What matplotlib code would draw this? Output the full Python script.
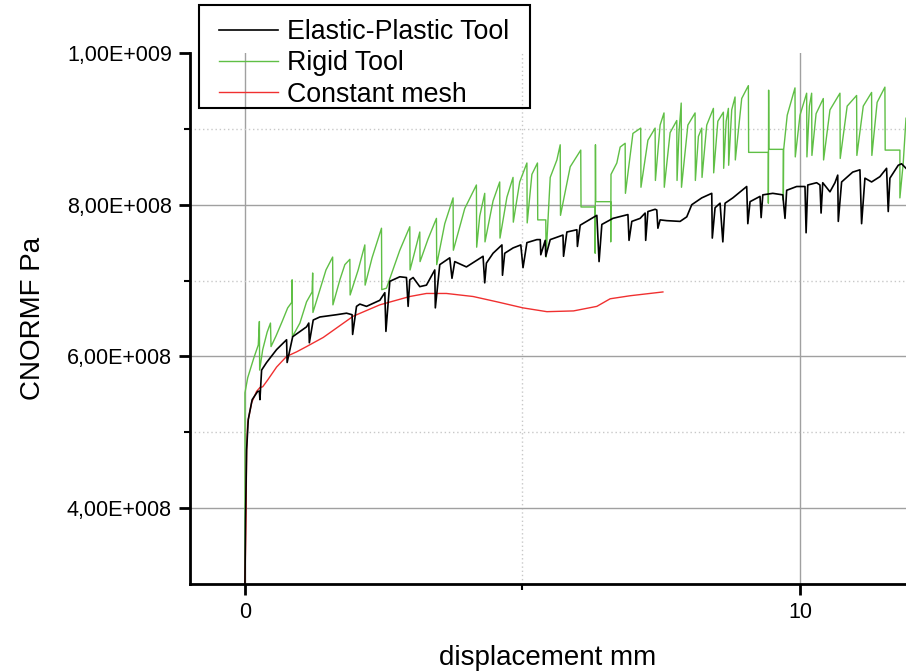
import matplotlib
matplotlib.use('Agg')
import matplotlib.pyplot as plt
import numpy as np
from matplotlib.patches import Rectangle
from matplotlib.ticker import FixedLocator, FuncFormatter

plt.rcParams['font.family'] = ['Liberation Sans', 'DejaVu Sans']

# displacement (mm), CNORMF (x1e8 Pa)
elastic_pts = [
    (0.00, 3.00), (0.01, 3.85), (0.03, 4.77), (0.06, 5.17), (0.13, 5.43), (0.23, 5.54),
    (0.26, 5.54), (0.27, 5.43), (0.30, 5.82), (0.39, 5.92), (0.57, 6.09), (0.75, 6.22),
    (0.76, 5.92), (0.81, 6.09), (0.86, 6.26), (1.11, 6.39), (1.15, 6.44), (1.16, 6.18),
    (1.23, 6.48), (1.35, 6.52), (1.65, 6.55), (1.83, 6.57), (1.93, 6.55), (1.94, 6.29),
    (2.01, 6.66), (2.07, 6.69), (2.19, 6.66), (2.43, 6.74), (2.52, 6.84), (2.54, 6.33),
    (2.61, 6.99), (2.79, 7.05), (2.91, 7.04), (2.94, 6.66), (2.97, 7.01), (3.03, 7.04),
    (3.15, 6.92), (3.27, 6.94), (3.42, 7.14), (3.43, 6.64), (3.51, 7.21), (3.69, 7.30),
    (3.73, 7.03), (3.78, 7.25), (3.99, 7.18), (4.29, 7.32), (4.32, 6.97), (4.35, 7.23),
    (4.47, 7.36), (4.63, 7.47), (4.64, 7.07), (4.68, 7.36), (4.83, 7.43), (4.97, 7.47),
    (5.01, 7.17), (5.08, 7.50), (5.26, 7.54), (5.32, 7.54), (5.33, 7.34), (5.41, 7.53),
    (5.42, 7.32), (5.50, 7.54), (5.73, 7.60), (5.74, 7.32), (5.80, 7.64), (5.98, 7.67),
    (5.99, 7.45), (6.04, 7.73), (6.34, 7.86), (6.38, 7.25), (6.43, 7.74), (6.63, 7.82),
    (6.90, 7.87), (6.92, 7.53), (6.97, 7.78), (7.12, 7.82), (7.21, 7.89), (7.22, 7.53),
    (7.26, 7.91), (7.39, 7.94), (7.42, 7.93), (7.44, 7.69), (7.48, 7.80), (7.60, 7.79),
    (7.84, 7.78), (7.96, 7.84), (8.05, 8.00), (8.23, 8.09), (8.41, 8.15), (8.42, 7.56),
    (8.47, 7.96), (8.56, 8.02), (8.61, 7.51), (8.65, 8.02), (8.79, 8.09), (9.04, 8.24),
    (9.06, 7.75), (9.10, 8.04), (9.28, 8.11), (9.30, 7.83), (9.33, 8.13), (9.51, 8.15),
    (9.69, 8.13), (9.73, 7.82), (9.76, 8.19), (9.94, 8.24), (10.09, 8.24), (10.11, 7.63),
    (10.14, 8.26), (10.30, 8.29), (10.36, 8.26), (10.38, 7.89), (10.41, 8.29), (10.54, 8.17),
    (10.63, 8.29), (10.68, 8.39), (10.69, 7.78), (10.75, 8.30), (10.95, 8.43), (11.08, 8.46),
    (11.11, 7.75), (11.17, 8.35), (11.29, 8.30), (11.44, 8.37), (11.56, 8.48), (11.59, 7.91),
    (11.62, 8.35), (11.77, 8.52), (11.83, 8.54), (11.91, 8.48),
]

rigid_pts = [
    (0.00, 3.01), (0.00, 5.52), (0.05, 5.72), (0.16, 5.98), (0.24, 6.15), (0.26, 6.46), (0.265, 5.82),
    (0.32, 6.09), (0.40, 6.32), (0.46, 6.44), (0.47, 6.13),
    (0.56, 6.27), (0.67, 6.46), (0.77, 6.64), (0.85, 6.72), (0.85, 7.01), (0.855, 6.26),
    (0.99, 6.44), (1.11, 6.72), (1.21, 6.85), (1.22, 7.10), (1.225, 6.58),
    (1.35, 6.88), (1.46, 7.14), (1.58, 7.31), (1.585, 6.68),
    (1.71, 7.01), (1.80, 7.21), (1.89, 7.28), (1.895, 6.81),
    (2.04, 7.14), (2.16, 7.47), (2.165, 6.94),
    (2.29, 7.30), (2.46, 7.69), (2.465, 6.88),
    (2.55, 6.90), (2.79, 7.40), (2.97, 7.71), (2.975, 7.14),
    (3.10, 7.50), (3.15, 7.64), (3.155, 7.25),
    (3.30, 7.55), (3.45, 7.82), (3.455, 7.21),
    (3.60, 7.75), (3.75, 8.09), (3.755, 7.40),
    (3.96, 7.95), (4.17, 8.26), (4.175, 7.44),
    (4.23, 7.85), (4.32, 8.15), (4.325, 7.51),
    (4.47, 8.05), (4.59, 8.30), (4.595, 7.56),
    (4.72, 8.10), (4.83, 8.36), (4.835, 7.77),
    (4.95, 8.30), (5.08, 8.55), (5.085, 7.76),
    (5.17, 8.40), (5.27, 8.55), (5.275, 7.80), (5.42, 7.80), (5.425, 7.31),
    (5.50, 8.36), (5.62, 8.59), (5.68, 8.79), (5.685, 7.86),
    (5.86, 8.50), (6.05, 8.72), (6.055, 7.97), (6.31, 7.97), (6.31, 7.36), (6.315, 8.79),
    (6.32, 8.04), (6.59, 8.04), (6.59, 7.51), (6.595, 8.40),
    (6.70, 8.55), (6.76, 8.76), (6.85, 8.81), (6.855, 8.15),
    (6.99, 8.94), (7.13, 9.01), (7.135, 8.23),
    (7.26, 8.85), (7.39, 9.01), (7.395, 8.32),
    (7.48, 9.05), (7.55, 9.21), (7.555, 8.23),
    (7.66, 8.95), (7.78, 9.11), (7.785, 8.32),
    (7.82, 8.95), (7.86, 9.34), (7.865, 8.23),
    (7.98, 9.05), (8.11, 9.21), (8.115, 8.32),
    (8.17, 8.90), (8.23, 9.01), (8.235, 8.36),
    (8.32, 9.05), (8.44, 9.27), (8.445, 8.42),
    (8.52, 9.10), (8.62, 9.22), (8.625, 8.48),
    (8.67, 9.10), (8.71, 9.27), (8.715, 8.52),
    (8.77, 9.25), (8.83, 9.42), (8.835, 8.59),
    (8.95, 9.40), (9.07, 9.57), (9.075, 8.69), (9.43, 8.69), (9.43, 8.02), (9.435, 9.51),
    (9.44, 8.73), (9.70, 8.73), (9.70, 8.06), (9.705, 8.72), (9.77, 9.18), (9.91, 9.54), (9.915, 8.63),
    (10.00, 9.18), (10.12, 9.47), (10.125, 8.63),
    (10.17, 9.30), (10.21, 9.47), (10.215, 8.65),
    (10.29, 9.20), (10.42, 9.40), (10.425, 8.59),
    (10.54, 9.25), (10.72, 9.47), (10.725, 8.61),
    (10.85, 9.30), (11.02, 9.44), (11.025, 8.65),
    (11.14, 9.30), (11.29, 9.48), (11.295, 8.65),
    (11.39, 9.35), (11.53, 9.55), (11.535, 8.72), (11.80, 8.72), (11.80, 8.09), (11.86, 8.55),
    (11.91, 9.14),
]

constant_pts = [
    (0.00, 3.00), (0.02, 3.89), (0.03, 4.77), (0.05, 5.13), (0.12, 5.39), (0.21, 5.54),
    (0.27, 5.59), (0.32, 5.60), (0.41, 5.69), (0.57, 5.86), (0.75, 6.00), (0.93, 6.06),
    (1.11, 6.13), (1.41, 6.25), (1.95, 6.53), (2.43, 6.68), (2.97, 6.79), (3.27, 6.83),
    (3.63, 6.83), (4.11, 6.79), (4.54, 6.72), (5.01, 6.64), (5.44, 6.59), (5.92, 6.60),
    (6.34, 6.66), (6.58, 6.76), (6.94, 6.80), (7.53, 6.85),
]

labels = ['Elastic-Plastic Tool', 'Rigid Tool', 'Constant mesh']
colors = ['black', '#5fbf45', '#f03030']
widths = [1.2, 1.0, 1.0]

x_major = [0, 10]
x_minor = [5]
y_major = [4e8, 6e8, 8e8, 1e9]
y_minor = [5e8, 7e8, 9e8]


def origin_sci(v, p):
    if v == 0:
        return '0'
    e = int(np.floor(np.log10(abs(v))))
    m = v / 10.0 ** e
    return ('%.2f' % m).replace('.', ',') + 'E+%03d' % e


W, H = 906, 671
fig = plt.figure(figsize=(W / 100, H / 100), dpi=100)
ax = fig.add_axes([190 / W, 1 - 584 / H, (W - 190) / W, (584 - 53) / H])

lines = []
for pts, lab, col, lw in zip([elastic_pts, rigid_pts, constant_pts], labels, colors, widths):
    arr = np.array(pts)
    ln, = ax.plot(arr[:, 0], arr[:, 1] * 1e8, color=col, lw=lw, label=lab)
    lines.append(ln)
# black line sits on top like in the original
lines[0].set_zorder(3)

ax.set_xlim(-0.99, 11.91)
ax.set_ylim(3e8, 1e9)

ax.xaxis.set_major_locator(FixedLocator(x_major))
ax.xaxis.set_minor_locator(FixedLocator(x_minor))
ax.yaxis.set_major_locator(FixedLocator(y_major))
ax.yaxis.set_minor_locator(FixedLocator(y_minor))
ax.yaxis.set_major_formatter(FuncFormatter(origin_sci))

ax.grid(which='major', color='#a0a0a0', lw=1.0, ls='-')
ax.grid(which='minor', color='#c8c8c8', lw=1.0, ls=(0, (1, 2)))
ax.set_axisbelow(True)
ax.yaxis.get_major_ticks()[-1].gridline.set_visible(False)

for s in ['top', 'right']:
    ax.spines[s].set_visible(False)
for s in ['left', 'bottom']:
    ax.spines[s].set_linewidth(2.0)

ax.tick_params(which='major', direction='out', length=8, width=2, labelsize=15.5, pad=5)
ax.tick_params(which='minor', direction='out', length=4, width=1.5)

ax.set_xlabel('displacement mm', fontsize=20, labelpad=16)
ax.set_ylabel('CNORMF Pa', fontsize=20, labelpad=15)

# legend: frame drawn as its own box, entries placed inside
fig.patches.append(Rectangle((199 / W, 1 - 108 / H), 331 / W, 103 / H,
                             transform=fig.transFigure, fill=False,
                             ec='black', lw=1.5, zorder=5))
fig.legend(handles=lines, loc='upper left', bbox_to_anchor=(219 / W, 1 - 19 / H),
           fontsize=19.3, frameon=False, handlelength=2.2, handletextpad=0.33,
           labelspacing=0.2, borderpad=0, borderaxespad=0)

fig.savefig('out.png', dpi=100)
